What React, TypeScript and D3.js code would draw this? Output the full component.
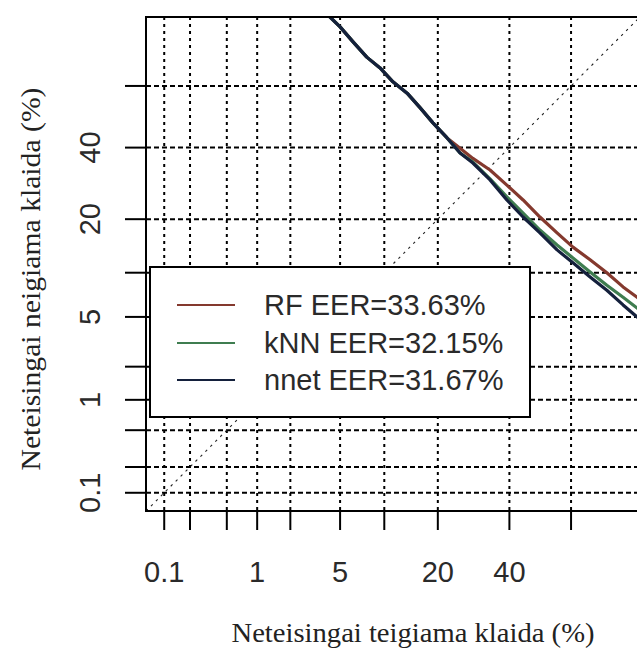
import * as d3 from "d3";
import React from "react";

// DET curves, values in percent (false alarm %, miss %)
const rfFalse = [4.0, 5.0, 6.2, 7.7, 9.4, 11.3, 13.7, 16.2, 18.9, 22.2, 25.5, 29.0, 34.0, 39.2, 44.4, 49.9, 55.5, 60.6, 65.9, 70.8, 75.2, 78.7, 81.6];
const rfMiss = [80.0, 77.0, 73.1, 68.8, 65.6, 61.3, 57.7, 52.9, 48.0, 43.1, 39.8, 36.6, 33.1, 28.7, 24.7, 20.5, 17.0, 14.2, 12.0, 10.0, 8.1, 6.9, 5.9];

const knnFalse = [4.0, 5.0, 6.2, 7.7, 9.4, 11.3, 13.7, 16.2, 18.9, 22.2, 25.5, 29.0, 34.0, 39.2, 44.4, 49.9, 55.5, 60.6, 65.9, 70.8, 75.2, 78.7, 81.6];
const knnMiss = [80.0, 77.0, 73.1, 68.8, 65.6, 61.3, 57.7, 52.9, 48.0, 43.1, 38.3, 35.5, 30.5, 25.5, 21.4, 17.6, 14.6, 12.3, 10.1, 8.3, 6.9, 5.8, 4.9];

const nnetFalse = [4.0, 5.0, 6.2, 7.7, 9.4, 11.3, 13.7, 16.2, 18.9, 22.2, 25.5, 29.0, 34.0, 39.2, 44.4, 49.9, 55.5, 60.6, 65.9, 70.8, 75.2, 78.7, 81.6];
const nnetMiss = [80.0, 77.0, 73.1, 68.8, 65.6, 61.3, 57.7, 52.9, 48.0, 43.1, 38.3, 35.2, 30.2, 24.7, 20.5, 17.0, 13.7, 11.5, 9.4, 7.7, 6.1, 5.0, 4.1];

const seriesNames = ["RF EER=33.63%", "kNN EER=32.15%", "nnet EER=31.67%"];
const seriesColors = ["#84392e", "#3f7d50", "#14203c"];

const tickValues = [0.1, 0.2, 0.5, 1, 2, 5, 10, 20, 40, 60];
const tickLabels = [0.1, 1, 5, 20, 40];

const xTitle = "Neteisingai teigiama klaida (%)";
const yTitle = "Neteisingai neigiama klaida (%)";

// inverse normal cdf (Acklam)
function qnorm(p: number): number {
  const a = [-39.69683028665376, 220.9460984245205, -275.9285104469687, 138.357751867269, -30.66479806614716, 2.506628277459239];
  const b = [-54.47609879822406, 161.5858368580409, -155.6989798598866, 66.80131188771972, -13.28068155288572];
  const c = [-0.007784894002430293, -0.3223964580411365, -2.400758277161838, -2.549732539343734, 4.374664141464968, 2.938163982698783];
  const d = [0.007784695709041462, 0.3224671290700398, 2.445134137142996, 3.754408661907416];
  const pl = 0.02425;
  if (p < pl) {
    const q = Math.sqrt(-2 * Math.log(p));
    return (((((c[0] * q + c[1]) * q + c[2]) * q + c[3]) * q + c[4]) * q + c[5]) / ((((d[0] * q + d[1]) * q + d[2]) * q + d[3]) * q + 1);
  }
  if (p > 1 - pl) return -qnorm(1 - p);
  const q = p - 0.5;
  const r = q * q;
  return ((((((a[0] * r + a[1]) * r + a[2]) * r + a[3]) * r + a[4]) * r + a[5]) * q) / (((((b[0] * r + b[1]) * r + b[2]) * r + b[3]) * r + b[4]) * r + 1);
}

const pr = (pct: number) => qnorm(pct / 100);

export default function App() {
  const width = 637;
  const height = 651;
  const left = 146;
  const top = 17;
  const bottom = 511;
  const lo = -3.24;
  const hi = 0.82;
  const right = left + (bottom - top);

  const x = d3.scaleLinear().domain([lo, hi]).range([left, right]);
  const y = d3.scaleLinear().domain([lo, hi]).range([bottom, top]);

  const series = [
    { fa: rfFalse, miss: rfMiss },
    { fa: knnFalse, miss: knnMiss },
    { fa: nnetFalse, miss: nnetMiss },
  ];

  const line = d3
    .line<[number, number]>()
    .x((d) => x(pr(d[0])))
    .y((d) => y(pr(d[1])));

  const font = "'Liberation Sans', Arial, sans-serif";
  const serif = "'Liberation Serif', 'Times New Roman', serif";

  const legX = 150;
  const legY = 267;
  const legW = 380;
  const legH = 150;
  const rowY = [305, 343, 380];

  return (
    <svg
      width={width}
      height={height}
      style={{ position: "absolute", left: 0, top: 0, background: "#fff" }}
    >
      <defs>
        <clipPath id="plotclip">
          <rect x={left} y={top} width={right - left} height={bottom - top} />
        </clipPath>
      </defs>
      <rect width={width} height={height} fill="#fff" />

      {/* grid */}
      <g stroke="#000" strokeWidth={2} clipPath="url(#plotclip)">
        {tickValues.map((t) => (
          <line key={"gx" + t} x1={x(pr(t))} x2={x(pr(t))} y1={top} y2={bottom} strokeDasharray="3,4" />
        ))}
        {tickValues.map((t) => (
          <line key={"gy" + t} x1={left} x2={right} y1={y(pr(t))} y2={y(pr(t))} strokeDasharray="5,3" />
        ))}
      </g>

      {/* diagonal */}
      <line
        x1={x(lo)}
        y1={y(lo)}
        x2={x(hi)}
        y2={y(hi)}
        stroke="#222"
        strokeWidth={1.1}
        strokeDasharray="2.5,4.5"
        clipPath="url(#plotclip)"
      />

      {/* curves */}
      <g clipPath="url(#plotclip)" fill="none">
        {series.map((s, i) => (
          <path
            key={i}
            d={line(s.fa.map((v, j) => [v, s.miss[j]] as [number, number])) || ""}
            stroke={seriesColors[i]}
            strokeWidth={3.2}
            strokeLinejoin="round"
          />
        ))}
      </g>

      {/* box */}
      <rect x={left} y={top} width={right - left} height={bottom - top} fill="none" stroke="#000" strokeWidth={2} />

      {/* axes */}
      <g stroke="#000" strokeWidth={2}>
        {tickValues.map((t) => (
          <line key={"tx" + t} x1={x(pr(t))} x2={x(pr(t))} y1={bottom} y2={bottom + 19} />
        ))}
        {tickValues.map((t) => (
          <line key={"ty" + t} x1={left - 21} x2={left} y1={y(pr(t))} y2={y(pr(t))} />
        ))}
      </g>
      <g fontFamily={font} fontSize={29} fill="#2a2a2a">
        {tickLabels.map((t) => (
          <text key={"lx" + t} x={x(pr(t))} y={582} textAnchor="middle">
            {t}
          </text>
        ))}
        {tickLabels.map((t) => (
          <text key={"ly" + t} transform={`translate(100,${y(pr(t))}) rotate(-90)`} textAnchor="middle">
            {t}
          </text>
        ))}
      </g>

      {/* titles */}
      <text
        x={413}
        y={642}
        textAnchor="middle"
        fontFamily={serif}
        fontSize={27}
        fill="#222"
        textLength={363}
        lengthAdjust="spacingAndGlyphs"
      >
        {xTitle}
      </text>
      <text
        transform="translate(40,279) rotate(-90)"
        textAnchor="middle"
        fontFamily={serif}
        fontSize={27}
        fill="#222"
        textLength={383}
        lengthAdjust="spacingAndGlyphs"
      >
        {yTitle}
      </text>

      {/* legend */}
      <rect x={legX} y={legY} width={legW} height={legH} fill="#fff" stroke="#000" strokeWidth={2} />
      {seriesNames.map((name, i) => (
        <g key={name}>
          <line x1={177} x2={235} y1={rowY[i]} y2={rowY[i]} stroke={seriesColors[i]} strokeWidth={2} />
          <text x={264} y={rowY[i] + 10} fontFamily={font} fontSize={29} fill="#2a2a2a">
            {name}
          </text>
        </g>
      ))}
    </svg>
  );
}
